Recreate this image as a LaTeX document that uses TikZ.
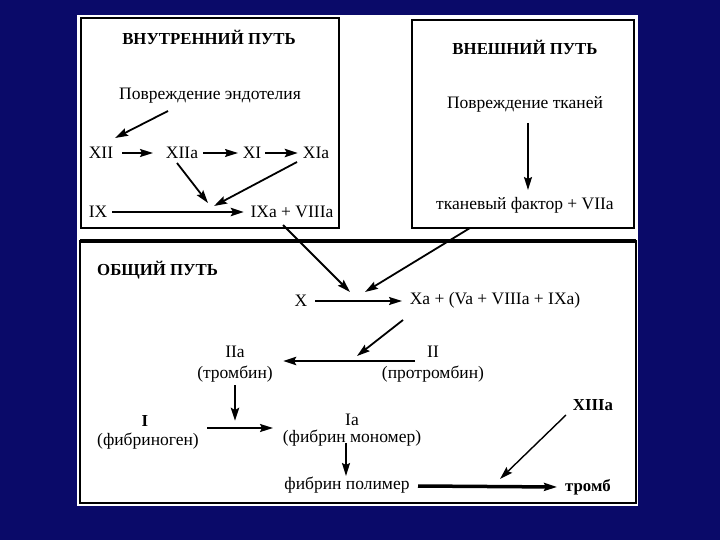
\documentclass[tikz,border=0pt]{standalone}
\usepackage{fontspec}
\setmainfont{Liberation Serif}
\usetikzlibrary{arrows.meta}
\definecolor{bgblue}{RGB}{10,10,105}
\tikzset{
  lab/.style={font=\fontsize{17.5}{19}\selectfont, inner sep=0pt, text=black},
  ttl/.style={font=\bfseries\fontsize{16.8}{19}\selectfont, inner sep=0pt, text=black},
  box/.style={draw=black, line width=2.5pt},
  arr/.style={-{Stealth[length=13pt,width=8pt,inset=2pt]}, line width=1.8pt, black},
  arrthin/.style={arr, line width=1.4pt},
  arrthick/.style={arr, line width=2.8pt}
}
\begin{document}
\begin{tikzpicture}[x=1pt,y=-1pt]
\useasboundingbox (0,0) rectangle (720,540);
\fill[bgblue] (0,0) rectangle (720,540);
\fill[white] (77,15) rectangle (638,506);
% boxes
\draw[box] (81,18) rectangle (339,228);
\draw[box] (412,20) rectangle (634,228);
\draw[box] (80,241) rectangle (636,503);
\draw[black, line width=3.2pt] (80,241) -- (636,241);
% internal path
\node[ttl] (t1) at (209,37) {ВНУТРЕННИЙ ПУТЬ};
\node[lab] (pe) at (210,96) {Повреждение эндотелия};
\node[lab] (xii) at (101,153) {XII};
\node[lab] (xiia) at (182,153) {XIIa};
\node[lab] (xi) at (252,153) {XI};
\node[lab] (xia) at (316,153) {XIa};
\node[lab] (ix) at (98,212) {IX};
\node[lab] (ixa) at (292,212) {IXa + VIIIa};
% external path
\node[ttl] (t2) at (525,47) {ВНЕШНИЙ ПУТЬ};
\node[lab] (pt) at (525,104) {Повреждение тканей};
\node[lab] (tf) at (525,205) {тканевый фактор + VIIa};
% common path
\node[ttl, anchor=west] (t3) at (97,270) {ОБЩИЙ ПУТЬ};
\node[lab] (x) at (301,301) {X};
\node[lab] (xa) at (495,300) {Xa + (Va + VIIIa + IXa)};
\node[lab] (iia) at (235,352) {IIa};
\node[lab] (thr) at (235,374) {(тромбин)};
\node[lab] (ii) at (433,352) {II};
\node[lab] (pthr) at (433,374) {(протромбин)};
\node[ttl] (i) at (145,421) {I};
\node[lab] (fbg) at (148,441) {(фибриноген)};
\node[lab] (ia) at (352,420) {Ia};
\node[lab] (fm) at (352,438) {(фибрин мономер)};
\node[lab] (fp) at (347,485) {фибрин полимер};
\node[ttl] (xiiia) at (593,405) {XIIIa};
\node[ttl] (tromb) at (588,487) {тромб};
% coordinates
\coordinate (a1s) at (168,111); \coordinate (a1e) at (115,138);
\coordinate (a2s) at (122,153); \coordinate (a2e) at (153,153);
\coordinate (a3s) at (203,153); \coordinate (a3e) at (238,153);
\coordinate (a4s) at (265,153); \coordinate (a4e) at (298,153);
\coordinate (a5s) at (177,163); \coordinate (j1) at (208,203);
\coordinate (a6s) at (297,162); \coordinate (j2) at (214,206);
\coordinate (a7s) at (112,212); \coordinate (a7e) at (244,212);
\coordinate (a8s) at (528,123); \coordinate (a8e) at (528,190);
\coordinate (a9s) at (283,225); \coordinate (j3) at (350,292);
\coordinate (a10s) at (470,228); \coordinate (j4) at (365,292);
\coordinate (a11s) at (315,301); \coordinate (a11e) at (402,301);
\coordinate (a12s) at (403,320); \coordinate (j5) at (357,356);
\coordinate (a13s) at (415,361); \coordinate (a13e) at (283,361);
\coordinate (a14s) at (235,385); \coordinate (j6) at (235,421);
\coordinate (a15s) at (207,428); \coordinate (a15e) at (273,428);
\coordinate (a16s) at (346,443); \coordinate (a16e) at (346,476);
\coordinate (a17s) at (418,486); \coordinate (a17e) at (557,487);
\coordinate (a18s) at (566,415); \coordinate (j7) at (500,479);
% arrows
\draw[arr] (a1s) -- (a1e);
\draw[arr] (a2s) -- (a2e);
\draw[arrthin] (a3s) -- (a3e);
\draw[arrthick] (a4s) -- (a4e);
\draw[arr] (a5s) -- (j1);
\draw[arr] (a6s) -- (j2);
\draw[arrthick] (a7s) -- (a7e);
\draw[arr] (a8s) -- (a8e);
\draw[arr] (a9s) -- (j3);
\draw[arr] (a10s) -- (j4);
\draw[arr] (a11s) -- (a11e);
\draw[arr] (a12s) -- (j5);
\draw[arrthick] (a13s) -- (a13e);
\draw[arrthick] (a14s) -- (j6);
\draw[arr] (a15s) -- (a15e);
\draw[arr] (a16s) -- (a16e);
\draw[arr, line width=3.5pt] (a17s) -- (a17e);
\draw[arrthin] (a18s) -- (j7);
\end{tikzpicture}
\end{document}
